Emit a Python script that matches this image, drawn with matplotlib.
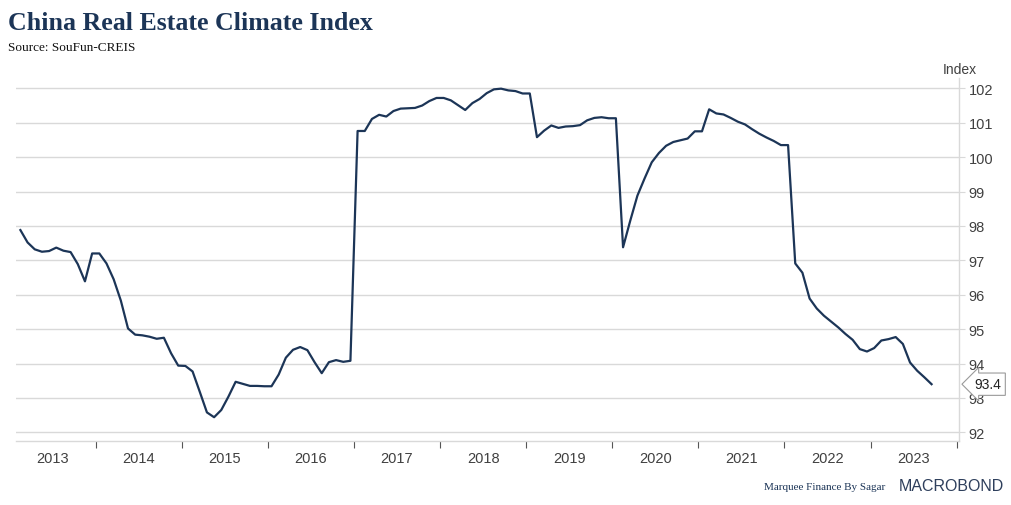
import matplotlib
matplotlib.use("Agg")
import matplotlib.pyplot as plt
import numpy as np

# ==============================
# Data (monthly, Feb 2013 - Sep 2023)
# ==============================

start_year = 2013
start_month = 2

index_values = [
    97.88, 97.52, 97.32, 97.25, 97.27, 97.37, 97.28, 97.24, 96.89, 96.39, 97.20,  # 2013
    97.20, 96.91, 96.45, 95.83, 95.02, 94.84, 94.82, 94.78, 94.72, 94.75, 94.30, 93.94,  # 2014
    93.93, 93.77, 93.18, 92.58, 92.44, 92.65, 93.04, 93.47, 93.41, 93.35, 93.35, 93.34,  # 2015
    93.34, 93.68, 94.17, 94.40, 94.48, 94.39, 94.04, 93.72, 94.04, 94.10, 94.05, 94.08,  # 2016
    100.76, 100.76, 101.11, 101.23, 101.18, 101.34, 101.41, 101.42, 101.43, 101.50, 101.63, 101.72,  # 2017
    101.72, 101.65, 101.51, 101.37, 101.57, 101.69, 101.86, 101.97, 101.99, 101.94, 101.92, 101.85,  # 2018
    101.85, 100.58, 100.77, 100.92, 100.85, 100.89, 100.90, 100.93, 101.07, 101.14, 101.16, 101.13,  # 2019
    101.13, 97.38, 98.15, 98.88, 99.38, 99.85, 100.12, 100.33, 100.44, 100.49, 100.54, 100.75,  # 2020
    100.75, 101.39, 101.27, 101.24, 101.14, 101.03, 100.95, 100.81, 100.68, 100.57, 100.47, 100.35,  # 2021
    100.35, 96.91, 96.64, 95.89, 95.60, 95.39, 95.22, 95.05, 94.86, 94.69, 94.42, 94.35,  # 2022
    94.45, 94.67, 94.71, 94.77, 94.57, 94.03, 93.79, 93.60, 93.40,  # 2023
]

year_labels = [str(y) for y in range(2013, 2024)]
y_ticks = list(range(92, 103))

# mid-month positions in fractional years
months = np.arange(len(index_values)) + (start_month - 1)
x = start_year + (months + 0.5) / 12.0

# ==============================
# Style
# ==============================

navy = "#1c3557"
grid_col = "#d9d9d9"
text_col = "#404040"
sans = ["Liberation Sans", "DejaVu Sans"]
serif = ["Liberation Serif", "DejaVu Serif"]

fig = plt.figure(figsize=(10.12, 5.06), dpi=100)
ax = fig.add_axes([16 / 1012, 1 - 442.3 / 506, (959 - 16) / 1012, (442.3 - 79) / 506])

ax.plot(x, index_values, color=navy, lw=1.6, solid_joinstyle="round", zorder=3)

ax.set_xlim(2013.074, 2024.027)
ax.set_ylim(91.74, 102.3)

# y axis on the right
ax.yaxis.tick_right()
ax.set_yticks(y_ticks)
ax.set_yticklabels([str(v) for v in y_ticks], family=sans, fontsize=10.5, color=text_col)
ax.tick_params(axis="y", length=4, width=0.8, color=grid_col, pad=3)
ax.grid(axis="y", color=grid_col, lw=1.0, zorder=0)

# x axis: ticks at year boundaries, labels in the middle of each year
ax.set_xticks(range(2014, 2025))
ax.set_xticklabels([])
ax.set_xticks([y + 0.5 for y in range(2013, 2024)], minor=True)
ax.set_xticklabels(year_labels, minor=True, family=sans, fontsize=10.5, color=text_col)
ax.tick_params(axis="x", which="major", length=5, width=0.8, color="#555555", direction="out")
ax.tick_params(axis="x", which="minor", length=0, pad=7)

for side in ["top", "left"]:
    ax.spines[side].set_visible(False)
ax.spines["bottom"].set_color(grid_col)
ax.spines["right"].set_color(grid_col)
ax.spines["bottom"].set_linewidth(1.0)
ax.spines["right"].set_linewidth(1.0)

# last value tag
ax.annotate(f"{index_values[-1]:.1f}", xy=(1.0, index_values[-1]), xycoords=("axes fraction", "data"),
            xytext=(11, 0), textcoords="offset points", ha="left", va="center",
            family=sans, fontsize=10, color="#222222",
            bbox=dict(boxstyle="larrow,pad=0.3", fc="white", ec="#9a9a9a", lw=0.8),
            annotation_clip=False, zorder=5)

# ==============================
# Text
# ==============================

fig.text(8 / 1012, 1 - 24 / 506, "China Real Estate Climate Index", family=serif, weight="bold",
         fontsize=18.6, color=navy, va="center", ha="left")
fig.text(8 / 1012, 1 - 48 / 506, "Source: SouFun-CREIS", family=serif, fontsize=9.5,
         color="#111111", va="center", ha="left")
fig.text(977 / 1012, 1 - 70 / 506, "Index", family=sans, fontsize=10, color=text_col,
         va="center", ha="right")
fig.text(885 / 1012, 1 - 488 / 506, "Marquee Finance By Sagar", family=serif, fontsize=8,
         color=navy, va="center", ha="right")
fig.text(1004 / 1012, 1 - 487 / 506, "MACROBOND", family=sans, fontsize=11.5, color="#2e3f5c",
         va="center", ha="right")

fig.savefig("out.png", dpi=100, facecolor="white")
